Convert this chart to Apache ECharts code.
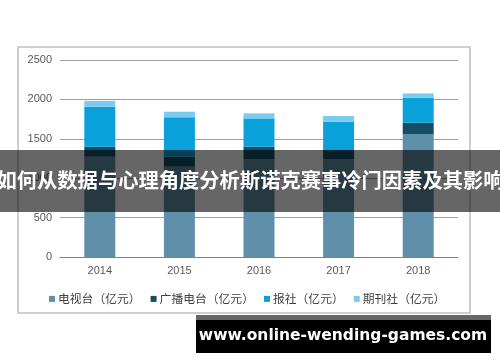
<!DOCTYPE html>
<html><head><meta charset="utf-8">
<script src="https://cdn.jsdelivr.net/npm/echarts@6/dist/echarts.min.js"></script>
<style>html,body{margin:0;padding:0;background:#fff}#c{width:500px;height:362px}</style>
</head><body><div id="c"></div>
<script>
const categories = ['2014','2015','2016','2017','2018'];
const seriesNames = ['电视台（亿元）','广播电台（亿元）','报社（亿元）','期刊社（亿元）'];
const tvValues = [1273, 1147, 1240, 1240, 1561];
const radioValues = [127, 127, 160, 127, 143];
const paperValues = [506, 499, 359, 349, 316];
const periodicalValues = [76, 71, 64, 73, 56];
const yTicks = [0, 500, 1000, 1500, 2000, 2500];
const bannerText = '如何从数据与心理角度分析斯诺克赛事冷门因素及其影响';
const watermarkText = 'www.online-wending-games.com';

const colors = ['#5f8fa9', '#134e66', '#0aa0da', '#7ccbef'];
const dataSets = [tvValues, radioValues, paperValues, periodicalValues];

const chart = echarts.init(document.getElementById('c'), null, {renderer: 'canvas'});
chart.setOption({
  animation: false,
  backgroundColor: '#fff',
  textStyle: {fontFamily: 'Liberation Sans, Arial, sans-serif'},
  grid: {left: 60, right: 42, top: 60, bottom: 105},
  legend: {
    left: 44, top: 288,
    itemWidth: 6, itemHeight: 6, itemGap: 10,
    icon: 'rect',
    textStyle: {fontSize: 11.8, color: '#404040', fontFamily: 'Noto Sans CJK SC', padding: [0,0,0,-2]},
    data: seriesNames
  },
  xAxis: {
    type: 'category', data: categories,
    axisLine: {lineStyle: {color: '#808080', width: 1}},
    axisTick: {show: false},
    axisLabel: {color: '#595959', fontSize: 11, margin: 8}
  },
  yAxis: {
    type: 'value', min: yTicks[0], max: yTicks[yTicks.length-1], interval: 500,
    axisLine: {show: false}, axisTick: {show: false},
    splitLine: {lineStyle: {color: '#a0a0a0', width: 1}},
    axisLabel: {color: '#595959', fontSize: 11, margin: 8, formatter: v => String(v)}
  },
  series: dataSets.map((d, i) => ({
    name: seriesNames[i], type: 'bar', stack: 'total', barWidth: 31,
    itemStyle: {color: colors[i]}, data: d
  })),
  graphic: [
    {type: 'rect', z: 50, silent: true, shape: {x: 18, y: 47, width: 452, height: 266},
     style: {fill: 'none', stroke: '#c0c0c0', lineWidth: 1.5}},
    {type: 'rect', z: 100, shape: {x: 0, y: 150, width: 500, height: 62},
     style: {fill: 'rgba(0,0,0,0.6)'}},
    {type: 'text', z: 101, x: 250, y: 180,
     style: {text: bannerText, fill: '#fff', font: 'bold 20.3px "Noto Sans CJK SC"', align: 'center', verticalAlign: 'middle'}},
    {type: 'rect', z: 100, shape: {x: 196, y: 315, width: 295, height: 6}, style: {fill: '#666'}},
    {type: 'rect', z: 100, shape: {x: 196, y: 320, width: 295, height: 33}, style: {fill: '#000'}},
    {type: 'text', z: 101, x: 343, y: 336,
     style: {text: watermarkText, fill: '#fff', font: 'bold 15.5px "DejaVu Sans"', align: 'center', verticalAlign: 'middle'}}
  ]
});
</script></body></html>
